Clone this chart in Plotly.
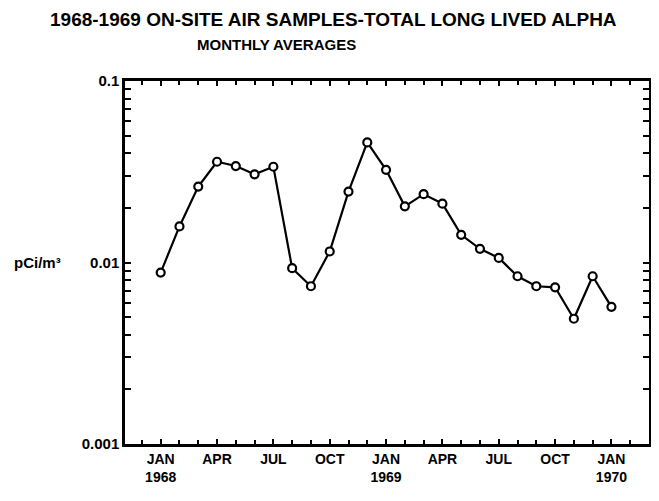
import plotly.graph_objects as go

# month index from JAN 1968 (0) to JAN 1970 (24)
months = list(range(25))
alpha = [0.0088, 0.0158, 0.0262, 0.0359, 0.0340, 0.0306, 0.0337, 0.0093, 0.0074,
         0.0115, 0.0246, 0.0459, 0.0324, 0.0204, 0.0238, 0.0211, 0.0142, 0.0119,
         0.0106, 0.0084, 0.0074, 0.0073, 0.0049, 0.0084, 0.0057]

x_tickvals = [0, 3, 6, 9, 12, 15, 18, 21, 24]
x_ticktext = ["JAN<br>1968", "APR", "JUL", "OCT", "JAN<br>1969", "APR", "JUL", "OCT", "JAN<br>1970"]
y_tickvals = [0.001, 0.01, 0.1]
y_ticktext = ["0.001", "0.01", "0.1"]
y_minor = [m * 10 ** e for e in (-3, -2) for m in range(2, 10)]

FONT = "Liberation Sans, Arial, sans-serif"

# page has an 8px body margin, so the figure is sized to fit the window
W, H = 651, 493
L, R, T, B = 117, 7, 73, 57
PW, PH = W - L - R, H - T - B

fig = go.Figure()
fig.add_trace(go.Scatter(
    x=months, y=alpha, mode="lines+markers",
    line=dict(color="black", width=2.2),
    marker=dict(symbol="circle", size=8, color="white",
                line=dict(color="black", width=2.2)),
    showlegend=False,
))

fig.update_layout(
    width=W, height=H,
    paper_bgcolor="white", plot_bgcolor="white",
    margin=dict(l=L, r=R, t=T, b=B),
    font=dict(family=FONT, color="black", size=12),
    xaxis=dict(
        range=[-1.9, 26.0], tickvals=x_tickvals, ticktext=x_ticktext,
        showgrid=False, zeroline=False,
        showline=True, linecolor="black", linewidth=2.5, mirror="allticks",
        ticks="inside", ticklen=5, tickwidth=1.5, tickcolor="black",
        tickfont=dict(family=FONT, size=14, weight="bold"),
        minor=dict(dtick=1, ticks="inside", ticklen=4, tickwidth=1.5,
                   tickcolor="black", showgrid=False),
    ),
    yaxis=dict(
        type="log", range=[-3, -1], tickvals=y_tickvals, ticktext=y_ticktext,
        showgrid=False, zeroline=False,
        showline=True, linecolor="black", linewidth=2.5, mirror="allticks",
        ticks="inside", ticklen=6, tickwidth=1.5, tickcolor="black",
        tickfont=dict(family=FONT, size=15, weight="bold"),
        minor=dict(tickvals=y_minor, ticks="inside", ticklen=6, tickwidth=1.5,
                   tickcolor="black", showgrid=False),
    ),
    annotations=[
        dict(text="1968-1969 ON-SITE AIR SAMPLES-TOTAL LONG LIVED ALPHA",
             xref="paper", yref="paper", x=(327 - L) / PW, y=1 + (T - 12) / PH,
             xanchor="center", yanchor="middle", showarrow=False,
             font=dict(family=FONT, size=19, weight="bold")),
        dict(text="MONTHLY AVERAGES",
             xref="paper", yref="paper", x=(269 - L) / PW, y=1 + (T - 37) / PH,
             xanchor="center", yanchor="middle", showarrow=False,
             font=dict(family=FONT, size=15, weight="bold")),
        dict(text="pCi/m³", xref="paper", yref="y", x=-62 / PW, y=-2,
             xanchor="right", yanchor="middle", showarrow=False,
             font=dict(family=FONT, size=15, weight="bold")),
    ],
)

fig.write_html("out.html")
